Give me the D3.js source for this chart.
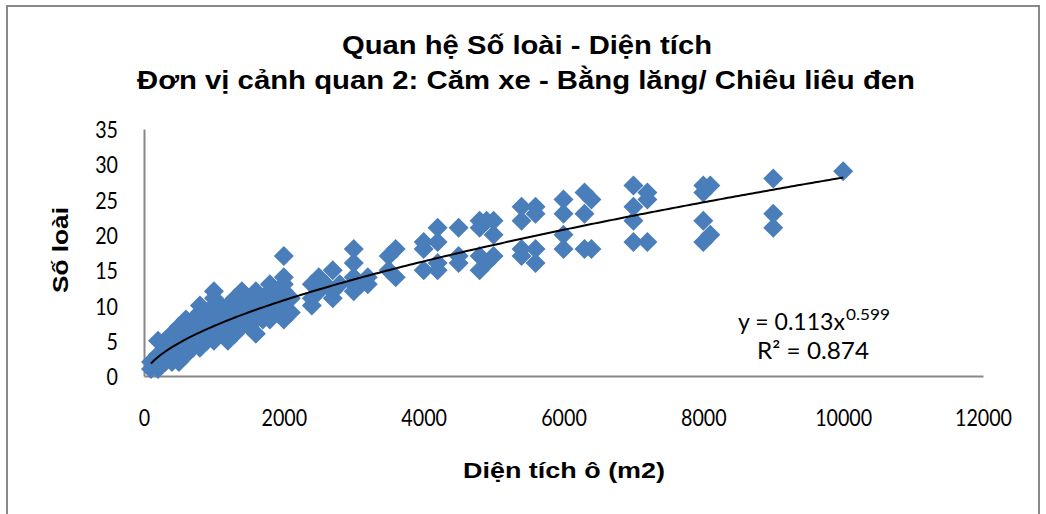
<!DOCTYPE html>
<html><head><meta charset="utf-8">
<script src="https://cdn.jsdelivr.net/npm/d3@7"></script>
<style>body{margin:0;background:#fff}</style>
</head><body><svg id="c" width="1046" height="514"></svg>
<script>
// ---- data ----
const areas = [
 100,100,
 200,200,200,200,
 300,300,300,300,
 400,400,400,400,400,
 500,500,500,500,500,
 600,600,600,600,600,
 700,700,700,700,
 800,800,800,800,800,800,
 900,900,900,900,900,
 1000,1000,1000,1000,1000,1000,1000,1000,
 1100,1100,1100,1100,1100,
 1200,1200,1200,1200,1200,1200,
 1300,1300,1300,1300,
 1400,1400,1400,1400,
 1500,1500,1500,1500,
 1600,1600,1600,1600,
 1700,1700,1700,
 1800,1800,1800,1800,1800,
 1900,1900,1900,
 2000,2000,2000,2000,2000,2000,2000,2000,
 2100,2100,
 2400,2400,2400,
 2500,2500,
 2600,
 2700,2700,2700,
 2800,
 3000,3000,3000,3000,3000,
 3100,
 3200,3200,
 3500,3500,
 3600,3600,
 4000,4000,4000,
 4200,4200,4200,4200,
 4500,4500,4500,
 4800,4800,4800,4800,
 4900,4900,
 5000,5000,5000,
 5400,5400,5400,5400,
 5600,5600,5600,5600,
 6000,6000,6000,6000,
 6300,6300,6300,
 6400,6400,
 7000,7000,7000,7000,
 7200,7200,7200,
 8000,8000,8000,8000,
 8100,8100,
 9000,9000,9000,
 10000
];
const species = [
 1,2,
 1,2,3,5,
 2,3,4,5,
 2,3,4,5,6,
 2,3,4,6,7,
 3,4,5,7,8,
 4,5,6,8,
 4,5,6,7,9,10,
 5,6,7,8,9,
 5,6,7,8,9,10,11,12,
 6,7,8,9,10,
 5,6,7,8,9,10,
 6,8,9,11,
 7,8,10,12,
 7,9,10,11,
 6,8,10,12,
 8,9,11,
 8,9,10,12,13,
 9,11,12,
 8,9,10,11,12,13,14,17,
 9,11,
 10,11,13,
 12,14,
 13,
 11,12,15,
 13,
 12,13,14,16,18,
 13,
 13,14,
 15,17,
 14,18,
 15,18,19,
 15,16,19,21,
 16,17,21,
 15,17,21,22,
 16,22,
 17,20,22,
 17,18,22,24,
 16,18,23,24,
 18,20,23,25,
 18,23,26,
 18,25,
 19,22,24,27,
 19,25,26,
 19,22,26,27,
 20,27,
 21,23,28,
 29
];
const xTicks = [0,2000,4000,6000,8000,10000,12000];
const yTicks = [0,5,10,15,20,25,30,35];
const titleLines = ["Quan hệ Số loài - Diện tích", "Đơn vị cảnh quan 2: Căm xe - Bằng lăng/ Chiêu liêu đen"];
const xTitle = "Diện tích ô (m2)";
const yTitle = "Số loài";
const fitCoef = 0.113, fitExp = 0.599, fitR2 = 0.874;

// ---- drawing ----
const svg = d3.select("#c");
const x = d3.scaleLinear().domain([0, 12000]).range([144, 983]);
const y = d3.scaleLinear().domain([0, 35]).range([376, 129]);

svg.append("rect").attr("x", 7).attr("y", 6).attr("width", 1032).attr("height", 540)
  .attr("fill", "#fff").attr("stroke", "#888").attr("stroke-width", 2);

function fitText(sel, w) {
  sel.attr("textLength", w).attr("lengthAdjust", "spacingAndGlyphs");
  return sel;
}

// titles
const tFont = "'Liberation Sans', Arial, sans-serif";
fitText(svg.append("text").attr("x", 527).attr("y", 54).attr("text-anchor", "middle")
  .attr("font-family", tFont).attr("font-weight", "bold").attr("font-size", 26).text(titleLines[0]), 370);
fitText(svg.append("text").attr("x", 526).attr("y", 89).attr("text-anchor", "middle")
  .attr("font-family", tFont).attr("font-weight", "bold").attr("font-size", 26).text(titleLines[1]), 778);

// axes
const tickFont = "Lato, 'Open Sans', sans-serif";
const sx = 0.82;
const fs = 24;
const gx = svg.append("g").attr("transform", `translate(0,${y(0)})`)
  .call(d3.axisBottom(x).tickValues(xTicks).tickSize(0).tickPadding(0).tickFormat(d3.format("d")));
const gy = svg.append("g").attr("transform", `translate(${x(0)},0)`)
  .call(d3.axisLeft(y).tickValues(yTicks).tickSize(0).tickPadding(0).tickFormat(d3.format("d")));
[gx, gy].forEach(g => {
  g.select(".domain").attr("stroke", "#878787").attr("stroke-width", 2);
  g.selectAll("text").attr("font-family", tickFont).attr("font-size", fs).attr("fill", "#000");
});
gx.selectAll("text").attr("y", 0).attr("dy", 0).attr("transform", `translate(0,50) scale(${sx},1)`);
gy.selectAll("text").attr("x", 0).attr("dy", "0.36em").attr("transform", `translate(-26,0) scale(${sx},1)`);

// axis titles
fitText(svg.append("text").attr("x", 564).attr("y", 478).attr("text-anchor", "middle")
  .attr("font-family", tFont).attr("font-weight", "bold").attr("font-size", 22).text(xTitle), 202);
fitText(svg.append("text").attr("transform", "translate(68,250) rotate(-90)").attr("text-anchor", "middle")
  .attr("font-family", tFont).attr("font-weight", "bold").attr("font-size", 22).text(yTitle), 86);

// points
const pts = areas.map((a, i) => ({a, s: species[i]}));
const sym = d3.symbol().type(d3.symbolSquare).size(200);
svg.append("g").selectAll("path").data(pts).join("path")
  .attr("d", sym)
  .attr("transform", d => `translate(${x(d.a)},${y(d.s)}) rotate(45)`)
  .attr("fill", "#4A7EBB");

// trendline
const xs = d3.range(100, 10001, 50);
svg.append("path").datum(xs)
  .attr("d", d3.line().x(d => x(d)).y(d => y(fitCoef * Math.pow(d, fitExp))))
  .attr("fill", "none").attr("stroke", "#000").attr("stroke-width", 2);

// equation
fitText(svg.append("text").attr("font-family", tickFont).attr("font-size", 24).attr("fill", "#000")
  .attr("x", 738).attr("y", 330).text(`y = ${fitCoef}x`), 107);
fitText(svg.append("text").attr("font-family", tickFont).attr("font-size", 16).attr("fill", "#000")
  .attr("x", 846).attr("y", 320).text(`${fitExp}`), 44);
fitText(svg.append("text").attr("font-family", tickFont).attr("font-size", 24).attr("fill", "#000")
  .attr("x", 757).attr("y", 359).text(`R² = ${fitR2}`), 112);
</script></body></html>
